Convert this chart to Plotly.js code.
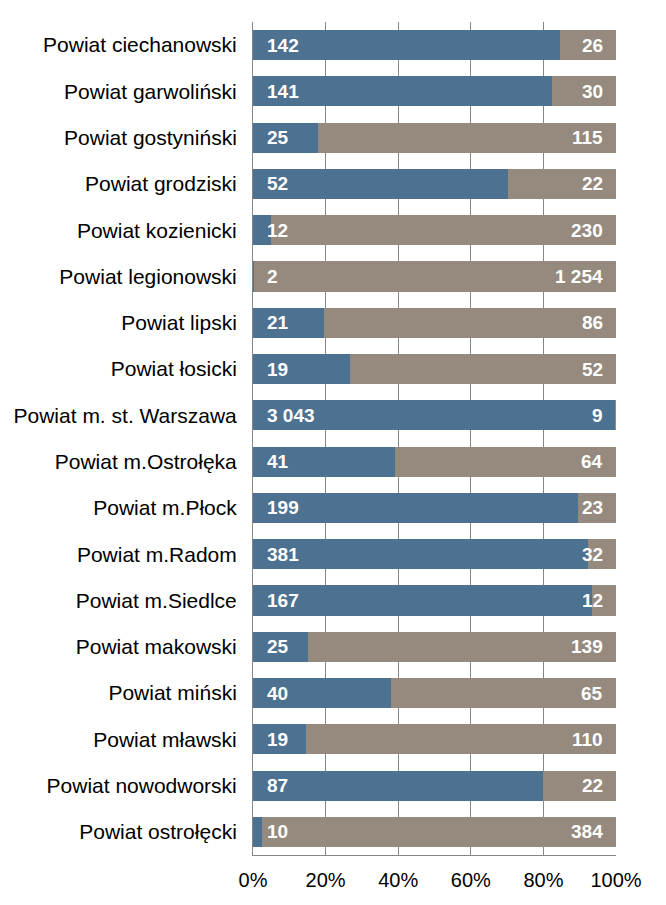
<!DOCTYPE html>
<html>
<head>
<meta charset="utf-8">
<script src="https://cdn.plot.ly/plotly-3.0.1.min.js"></script>
<style>html,body{margin:0;padding:0;background:#fff;}#chart{width:666px;height:905px;}</style>
</head>
<body>
<div id="chart"></div>
<script>
const categories = [
  "Powiat ciechanowski","Powiat garwoliński","Powiat gostyniński","Powiat grodziski",
  "Powiat kozienicki","Powiat legionowski","Powiat lipski","Powiat łosicki",
  "Powiat m. st. Warszawa","Powiat m.Ostrołęka","Powiat m.Płock","Powiat m.Radom",
  "Powiat m.Siedlce","Powiat makowski","Powiat miński","Powiat mławski",
  "Powiat nowodworski","Powiat ostrołęcki"
];
const seriesA = [142,141,25,52,12,2,21,19,3043,41,199,381,167,25,40,19,87,10];
const seriesB = [26,30,115,22,230,1254,86,52,9,64,23,32,12,139,65,110,22,384];
const tickVals = [0,20,40,60,80,100];
const tickText = ["0%","20%","40%","60%","80%","100%"];

const BLUE = "#4d7190";
const TAUPE = "#958a7d";
const fmt = v => String(v).replace(/\B(?=(\d{3})+(?!\d))/g, " ");

const traces = [
  {type:"bar", orientation:"h", y:categories, x:seriesA, marker:{color:BLUE}, hoverinfo:"none"},
  {type:"bar", orientation:"h", y:categories, x:seriesB, marker:{color:TAUPE}, hoverinfo:"none"}
];

const annotations = [];
categories.forEach((c,i)=>{
  annotations.push({x:0, y:c, xref:"x", yref:"y", text:fmt(seriesA[i]), showarrow:false,
    xanchor:"left", xshift:12, font:{family:"Liberation Sans, Arial, sans-serif", size:19, color:"#fff", weight:"bold"}});
  annotations.push({x:100, y:c, xref:"x", yref:"y", text:fmt(seriesB[i]), showarrow:false,
    xanchor:"right", xshift:-11, font:{family:"Liberation Sans, Arial, sans-serif", size:19, color:"#fff", weight:"bold"}});
});

const layout = {
  width:666, height:905,
  margin:{l:253, r:50, t:22, b:50, pad:0},
  barmode:"stack", barnorm:"percent", bargap:0.35,
  showlegend:false,
  paper_bgcolor:"#fff", plot_bgcolor:"#fff",
  font:{family:"Liberation Sans, Arial, sans-serif", color:"#000"},
  xaxis:{range:[0,100], tickvals:tickVals, ticktext:tickText, showgrid:true, gridcolor:"#868686", gridwidth:1,
    zeroline:false, showline:true, linecolor:"#868686", linewidth:1, ticks:"", tickfont:{size:20},
    ticklabelstandoff:7, fixedrange:true},
  yaxis:{autorange:"reversed", showline:true, linecolor:"#868686", linewidth:1, ticks:"", showgrid:false,
    tickfont:{size:21}, ticklabelstandoff:11, fixedrange:true},
  annotations:annotations
};

Plotly.newPlot("chart", traces, layout, {displayModeBar:false, staticPlot:true});
</script>
</body>
</html>
